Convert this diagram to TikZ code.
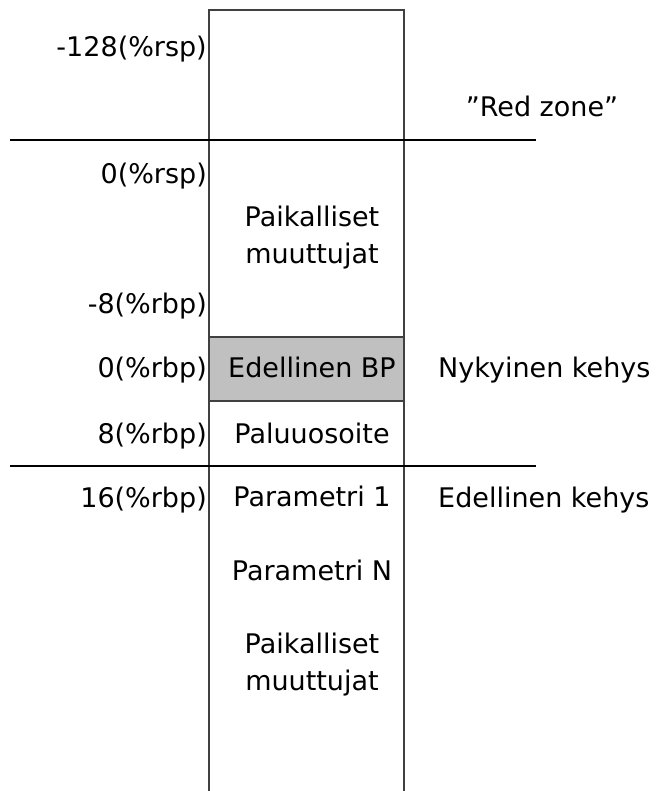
\documentclass[tikz,border=0pt]{standalone}
\usepackage{fontspec}
\setmainfont{DejaVu Sans}
\usepackage{tikz}
\usetikzlibrary{positioning, calc}
\definecolor{frameline}{RGB}{64, 64, 64}
\definecolor{savedbp}{RGB}{192, 192, 192}
\tikzstyle{offset} = [anchor=base east, inner sep=0pt, font=\fontsize{27}{37}\selectfont]
\tikzstyle{slot} = [anchor=base, inner sep=0pt, align=center, font=\fontsize{27}{37}\selectfont]
\tikzstyle{frame} = [anchor=base west, inner sep=0pt, font=\fontsize{27}{37}\selectfont]
\tikzstyle{stackline} = [draw=frameline, line width=2pt]
\tikzstyle{boundary} = [draw=black, line width=2pt]

\begin{document}
\begin{tikzpicture}[x=1pt, y=-1pt]
    \useasboundingbox (0,0) rectangle (655,791);

    % Stack column
    \fill[savedbp] (209,337) rectangle (404,401);
    \draw[stackline] (209,791) -- (209,10) -- (404,10) -- (404,791);
    \draw[stackline] (209,337) -- (404,337);
    \draw[stackline] (209,401) -- (404,401);

    % Frame boundaries
    \draw[boundary] (10,140) -- (536,140);
    \draw[boundary] (10,466) -- (536,466);

    % Offsets
    \node[offset] (rsp128) at (207,57) {-128(\%rsp)};
    \node[offset] (rsp0) at (207,184) {0(\%rsp)};
    \node[offset] (rbp8m) at (207,313) {-8(\%rbp)};
    \node[offset] (rbp0) at (207,377) {0(\%rbp)};
    \node[offset] (rbp8) at (207,443) {8(\%rbp)};
    \node[offset] (rbp16) at (207,507) {16(\%rbp)};

    % Slots (base anchor sits on the last line)
    \node[slot] (locals) at (312,264) {Paikalliset\\muuttujat};
    \node[slot] (oldbp) at (312,377) {Edellinen BP};
    \node[slot] (retaddr) at (312,443) {Paluuosoite};
    \node[slot] (param1) at (312,506) {Parametri 1};
    \node[slot] (paramn) at (312,580) {Parametri N};
    \node[slot] (oldlocals) at (312,690) {Paikalliset\\muuttujat};

    % Frames
    \node[slot] (redzone) at (542,117) {”Red zone”};
    \node[frame] (current) at (438,377) {Nykyinen kehys};
    \node[frame] (previous) at (438,507) {Edellinen kehys};
\end{tikzpicture}
\end{document}
